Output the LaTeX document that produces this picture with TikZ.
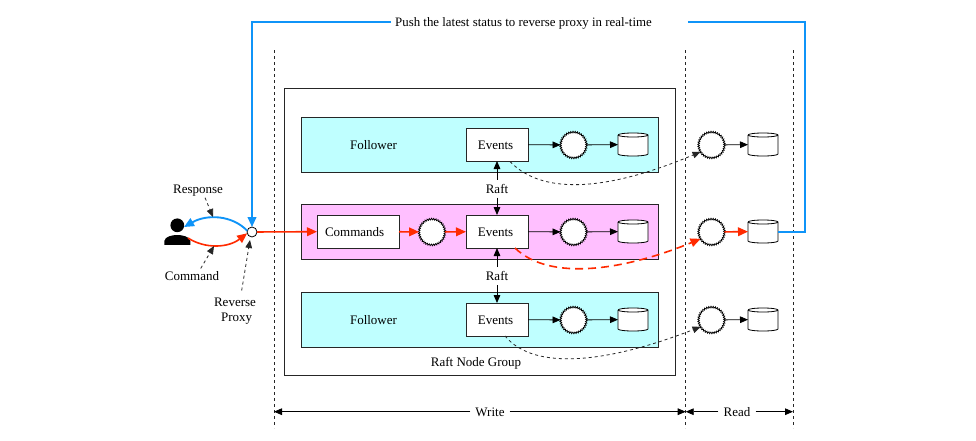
\documentclass[tikz,border=0pt]{standalone}
\usepackage{fontspec}
\setmainfont{Liberation Serif}
\usetikzlibrary{arrows.meta,decorations.pathmorphing}
\definecolor{cyanband}{HTML}{BFFFFF}
\definecolor{pinkband}{HTML}{FFBFFF}
\definecolor{redline}{HTML}{FF2A00}
\definecolor{blueline}{HTML}{0F94F8}
\tikzset{
  x=0.75pt,y=-0.75pt,
  every node/.style={font=\fontsize{9.75pt}{11.25pt}\selectfont,inner sep=0pt,outer sep=0pt},
  txt/.style={text height=7pt,text depth=0pt},
  band/.style={draw=black!85,line width=.6pt,minimum width=267.75pt,minimum height=41.25pt},
  box/.style={txt,draw=black!85,fill=white,line width=.6pt,minimum height=24.75pt},
  gear/.style={circle,fill=white,draw=black,line width=.55pt,minimum size=19.4pt,
    decorate,decoration={zigzag,segment length=1.6pt,amplitude=.62pt}},
  db/.style={minimum width=22.5pt,minimum height=17.25pt},
  flow/.style={-{Triangle[length=6pt,width=5pt]},line width=.6pt,black},
  rflow/.style={-{Triangle[length=7.5pt,width=6.5pt]},line width=1.2pt,redline},
  bflow/.style={line width=1.4pt,blueline},
  dashflow/.style={-{Triangle[length=6pt,width=5pt]},line width=.6pt,dash pattern=on 2.25pt off 2.25pt,black!85},
  rdash/.style={-{Triangle[length=7.5pt,width=6.5pt]},line width=1.2pt,dash pattern=on 6pt off 3.75pt,redline},
  guide/.style={line width=.6pt,dash pattern=on 2.25pt off 2.25pt,black!85},
}
\newcommand{\dbdraw}[1]{%
  \draw[black,line width=.6pt,fill=white,x=1pt,y=1pt]
    ([yshift=-1.5pt]#1.north west) -- ([yshift=1.5pt]#1.south west)
    arc[start angle=180,end angle=360,x radius=11.25pt,y radius=1.5pt]
    -- ([yshift=-1.5pt]#1.north east)
    arc[start angle=0,end angle=180,x radius=11.25pt,y radius=1.5pt];
  \draw[black,line width=.6pt,x=1pt,y=1pt]
    ([yshift=-1.5pt]#1.north west)
    arc[start angle=180,end angle=360,x radius=11.25pt,y radius=1.5pt];
}
\begin{document}
\begin{tikzpicture}
\useasboundingbox[fill=white] (0,0) rectangle (976,440);
% guides
\coordinate (gAt) at (274,50); \coordinate (gAb) at (274,428);
\coordinate (gBt) at (685.7,50); \coordinate (gBb) at (685.7,428);
\coordinate (gCt) at (793,50); \coordinate (gCb) at (793,428);
\draw[guide] (gAt)--(gAb); \draw[guide] (gBt)--(gBb); \draw[guide] (gCt)--(gCb);
% group
\node[draw=black!85,line width=.6pt,minimum width=293.25pt,minimum height=215.25pt] (group) at (479.5,231.5) {};
\node[txt] (grouplabel) at (476,362) {Raft Node Group};
\node[band,fill=cyanband] (bandA) at (479.5,144.5) {};
\node[band,fill=pinkband] (bandB) at (479.5,232) {};
\node[band,fill=cyanband] (bandC) at (479.5,319.5) {};
\node[txt] (folA) at (373.5,145) {Follower};
\node[txt] (folC) at (373.5,320) {Follower};
\node[box,minimum width=46.5pt] (evA) at (497,144.5) {Events\hspace*{2.2pt}};
\node[box,minimum width=46.5pt] (evB) at (497,231.5) {Events\hspace*{2.2pt}};
\node[box,minimum width=46.5pt] (evC) at (497,319.5) {Events\hspace*{2.2pt}};
\node[box,minimum width=61.5pt] (cmd) at (358,231.5) {Commands\hspace*{5pt}};
\node[gear] (gc) at (432,232) {};
\node[gear] (gA) at (573.5,145) {};
\node[gear] (gB) at (573.5,232) {};
\node[gear] (gC) at (573.5,320) {};
\node[db] (dA) at (633,144.5) {};
\node[db] (dB) at (633,231.5) {};
\node[db] (dC) at (633,319.5) {};
\node[gear] (rgA) at (711.5,145) {};
\node[gear] (rgB) at (711.5,232) {};
\node[gear] (rgC) at (711.5,320) {};
\node[db] (rdA) at (763,144.5) {};
\node[db] (rdB) at (763,231.5) {};
\node[db] (rdC) at (763,319.5) {};
\dbdraw{dA}\dbdraw{dB}\dbdraw{dC}\dbdraw{rdA}\dbdraw{rdB}\dbdraw{rdC}
% flows
\draw[flow] (evA)--(gA); \draw[flow] (gA)--(dA);
\draw[flow] (evB)--(gB); \draw[flow] (gB)--(dB);
\draw[flow] (evC)--(gC); \draw[flow] (gC)--(dC);
\draw[flow] (rgA)--(rdA); \draw[flow] (rgC)--(rdC);
\draw[rflow] (rgB)--(rdB);
\draw[rflow] (cmd)--(gc); \draw[rflow] (gc)--(evB);
% raft
\node[txt,inner ysep=3.25pt] (raftA) at (497,188.7) {Raft};
\node[txt,inner ysep=3.25pt] (raftB) at (497,276) {Raft};
\draw[flow] (raftA)--(evA); \draw[flow] (raftA)--(evB);
\draw[flow] (raftB)--(evB); \draw[flow] (raftB)--(evC);
% dashed curves
\coordinate (sA) at (510,161.5);
\coordinate (sB) at (515,248);
\coordinate (sC) at (505,336);
\draw[dashflow] (sA) .. controls (545,198) and (615,188) .. (rgA.212);
\draw[rdash] (sB) .. controls (550,282) and (625,270) .. (rgB.212);
\draw[dashflow] (sC) .. controls (535,372) and (610,362) .. (rgC.212);
% user
\node[circle,fill=black,minimum size=10.3pt] (head) at (177.3,225.3) {};
\fill[black] (164.3,244.8) -- (164.3,241) .. controls (165,236.5) and (172,235) .. (177.3,235) .. controls (182.5,235) and (189.5,236.5) .. (190.3,241) -- (190.3,244.8) -- cycle;
\coordinate (userB) at (184,227);
\coordinate (userR) at (188,238);
\node[circle,draw=black,fill=white,line width=.6pt,minimum size=7.5pt] (proxy) at (252,232) {};
\draw[bflow,-{Triangle[length=7.5pt,width=6.5pt]}] (proxy.165) .. controls (232,215) and (207,214) .. (userB);
\draw[rflow] (userR) .. controls (205,249) and (228,248) .. (proxy.195);
\draw[rflow] (proxy)--(cmd);
% labels near client
\node[txt,inner ysep=3.3pt] (resp) at (198,188.7) {Response};
\node[txt,inner ysep=2.2pt] (comm) at (192,276) {Command};
\node[anchor=north,align=center,inner ysep=5.5pt] (rp) at (235,290.5) {Reverse\\\hspace*{2.5pt}Proxy};
\coordinate (respT) at (213,217);
\coordinate (commT) at (214,246);
\coordinate (rpT) at (250,240);
\draw[dashflow] (resp.-52)--(respT);
\draw[dashflow] (comm.41)--(commT);
\draw[dashflow] ([xshift=5pt]rp.north)--(rpT);
% blue push
\node[txt,font=\fontsize{9.65pt}{11.25pt}\selectfont] (push) at (523.5,22) {Push the latest status to reverse proxy in real-time};
\coordinate (pushW) at ([xshift=-3pt]push.west);
\coordinate (pushE) at ([xshift=27pt]push.east);
\coordinate (corner) at (805,232);
\draw[bflow,-{Triangle[length=7.5pt,width=6.5pt]}] (pushW) -| (proxy.north);
\draw[bflow] (pushE) -| (corner) -- (rdB.east|-corner);
% dims
\node[txt,inner xsep=3.75pt] (write) at (490,411.7) {Write};
\node[txt,inner xsep=4pt] (read) at (737,411.7) {Read};
\draw[flow] (write.west)--(gAt|-write.west);
\draw[flow] (write.east)--(gBt|-write.east);
\draw[flow] (read.west)--(gBt|-read.west);
\draw[flow] (read.east)--(gCt|-read.east);
\end{tikzpicture}
\end{document}
